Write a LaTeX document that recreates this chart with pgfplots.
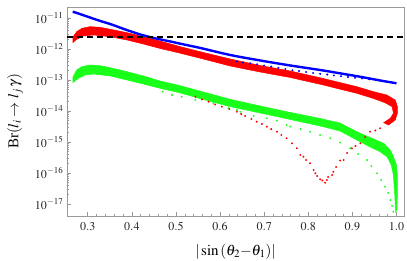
\documentclass[border=0pt]{standalone}
\usepackage{mathptmx}
\usepackage{fontspec}
\setmainfont{Liberation Serif}
\usepackage{pgfplots}
\pgfplotsset{compat=1.18}
\definecolor{framegray}{gray}{0.6}
\definecolor{mgreen}{rgb}{0.1,1,0.1}
\begin{document}
\begin{tikzpicture}
\begin{axis}[
  scale only axis, width=337pt, height=209pt,
  xmin=0.253, xmax=1.017,
  ymode=log, ymin=4.1e-18, ymax=2.26e-11,
  xtick={0.3,0.4,0.5,0.6,0.7,0.8,0.9,1.0},
  minor x tick num=4,
  ytick={1e-17,1e-16,1e-15,1e-14,1e-13,1e-12,1e-11},
  xtick pos=bottom, ytick pos=left,
  tick align=inside,
  major tick length=4pt, minor tick length=2.2pt,
  axis line style={framegray, line width=0.6pt},
  every tick/.style={framegray, line width=0.5pt},
  xticklabel style={/pgf/number format/fixed, /pgf/number format/fixed zerofill, /pgf/number format/precision=1, yshift=-3pt},
  tick label style={font=\fontsize{12}{14}\selectfont, text=black!85},
  label style={font=\fontsize{15}{18}\selectfont},
  xlabel={$|\sin{(\theta_2{-}\theta_1)}|$},
  ylabel={Br$(l_i \rightarrow l_j\,\gamma)$},
  xlabel style={at={(axis description cs:0.5,-0.172)}, anchor=center},
  ylabel style={at={(axis description cs:-0.154,0.5)}, anchor=center},
]
% green band
\addplot[fill=mgreen, draw=mgreen, line width=0.5pt] coordinates {
(0.266,1.22e-13) (0.275,2.10e-13) (0.287,2.69e-13) (0.305,3.05e-13) (0.328,2.89e-13)
(0.351,2.49e-13) (0.389,1.85e-13) (0.426,1.35e-13) (0.464,9.29e-14) (0.508,6.65e-14)
(0.562,4.10e-14) (0.623,2.38e-14) (0.691,1.45e-14) (0.759,8.95e-15) (0.827,5.73e-15)
(0.872,4.10e-15) (0.910,2.15e-15) (0.948,1.25e-15) (0.971,9.08e-16) (0.986,5.52e-16)
(0.993,3.36e-16) (1.000,1.81e-16) (1.002,8.61e-17) (1.002,1.95e-17) (1.001,6.40e-18)
(0.998,5.52e-18) (0.996,1.95e-17) (0.993,8.61e-17) (0.988,1.81e-16) (0.979,3.28e-16)
(0.963,4.86e-16) (0.940,6.90e-16) (0.910,1.16e-15) (0.872,2.26e-15) (0.827,3.28e-15)
(0.759,5.32e-15) (0.691,8.61e-15) (0.623,1.38e-14) (0.562,2.35e-14) (0.508,3.89e-14)
(0.464,5.40e-14) (0.426,7.43e-14) (0.389,1.00e-13) (0.351,1.35e-13) (0.313,1.56e-13)
(0.294,1.45e-13) (0.279,1.135e-13) (0.266,8.18e-14)
};
% green sparse branch
\addplot[only marks, mark=*, mark size=0.75pt, color=mgreen] coordinates {
(0.470,4.20e-14) (0.491,3.28e-14) (0.513,2.89e-14) (0.544,2.26e-14) (0.585,1.77e-14)
(0.619,1.22e-14) (0.638,1.08e-14) (0.646,9.48e-15) (0.676,6.90e-15) (0.706,5.82e-15)
(0.729,4.86e-15) (0.751,3.53e-15) (0.759,3.12e-15) (0.782,2.62e-15) (0.804,2.15e-15)
(0.827,1.68e-15) (0.850,1.32e-15) (0.872,9.64e-16) (0.895,6.27e-16) (0.913,4.10e-16)
(0.933,2.62e-16) (0.943,1.68e-16) (0.956,9.77e-17) (0.965,5.94e-17) (0.974,3.61e-17)
(0.981,2.26e-17) (0.986,1.35e-17) (0.990,8.61e-18) (0.993,5.65e-18)
};
% red band
\addplot[fill=red, draw=red, line width=0.5pt] coordinates {
(0.266,2.38e-12) (0.275,3.61e-12) (0.287,4.66e-12) (0.305,5.24e-12) (0.328,5.01e-12)
(0.351,4.32e-12) (0.389,3.36e-12) (0.426,2.49e-12) (0.464,1.81e-12) (0.508,1.205e-12)
(0.562,7.71e-13) (0.623,4.75e-13) (0.691,2.94e-13) (0.759,1.95e-13) (0.834,1.117e-13)
(0.910,6.08e-14) (0.948,4.20e-14) (0.978,3.28e-14) (0.997,2.26e-14) (1.002,1.38e-14)
(1.002,8.43e-15) (0.997,5.13e-15) (0.982,3.53e-15) (0.971,4.20e-15) (0.986,5.82e-15)
(0.993,8.43e-15) (0.990,1.38e-14) (0.974,1.85e-14) (0.948,2.53e-14) (0.910,3.72e-14)
(0.834,6.90e-14) (0.759,1.205e-13) (0.691,1.81e-13) (0.623,2.83e-13) (0.562,4.75e-13)
(0.508,7.43e-13) (0.464,1.04e-12) (0.426,1.45e-12) (0.389,1.95e-12) (0.351,2.49e-12)
(0.313,2.83e-12) (0.290,2.62e-12) (0.275,2.06e-12) (0.266,1.60e-12)
};
% red sparse branches
\addplot[only marks, mark=*, mark size=0.75pt, color=red] coordinates {
(0.963,2.77e-15) (0.952,2.35e-15) (0.940,2.15e-15) (0.929,1.45e-15) (0.918,9.08e-16)
(0.907,7.43e-16) (0.899,6.27e-16) (0.888,4.42e-16) (0.880,2.62e-16) (0.872,2.53e-16)
(0.863,1.56e-16) (0.857,1.10e-16) (0.854,8.61e-17) (0.845,7.43e-17) (0.842,5.94e-17)
(0.838,4.86e-17)
(0.832,5.73e-17) (0.827,6.27e-17) (0.820,8.00e-17) (0.816,9.77e-17) (0.812,1.25e-16)
(0.804,2.06e-16) (0.795,2.62e-16) (0.789,3.36e-16) (0.782,3.81e-16) (0.774,6.27e-16)
(0.763,9.08e-16) (0.751,1.32e-15) (0.739,1.68e-15) (0.729,2.15e-15) (0.716,2.62e-15)
(0.706,3.12e-15) (0.695,3.81e-15) (0.683,4.52e-15) (0.671,5.52e-15) (0.657,6.90e-15)
(0.648,8.00e-15) (0.638,9.48e-15) (0.621,1.16e-14) (0.604,1.38e-14) (0.589,1.62e-14)
(0.574,2.00e-14) (0.559,2.35e-14) (0.544,2.89e-14)
};
% blue sparse branch
\addplot[only marks, mark=*, mark size=0.75pt, color=blue] coordinates {
(0.638,3.95e-13) (0.652,3.67e-13) (0.668,3.46e-13) (0.684,3.21e-13) (0.700,2.94e-13)
(0.716,2.72e-13) (0.732,2.48e-13) (0.748,2.26e-13) (0.764,2.07e-13) (0.779,1.95e-13)
(0.795,1.81e-13) (0.811,1.68e-13) (0.827,1.585e-13) (0.843,1.50e-13) (0.858,1.40e-13)
(0.874,1.33e-13) (0.890,1.25e-13) (0.906,1.18e-13) (0.922,1.12e-13) (0.938,1.05e-13)
(0.954,1.00e-13) (0.970,9.29e-14) (0.986,8.61e-14)
};
% blue main
\addplot[blue, line width=2.4pt, smooth] coordinates {
(0.266,1.60e-11) (0.283,1.33e-11) (0.304,1.05e-11) (0.327,8.13e-12) (0.354,6.17e-12)
(0.385,4.26e-12) (0.419,2.94e-12) (0.453,2.21e-12) (0.487,1.75e-12) (0.508,1.50e-12)
(0.555,1.08e-12) (0.623,6.40e-13) (0.691,4.26e-13) (0.759,2.94e-13) (0.827,2.10e-13)
(0.872,1.64e-13) (0.918,1.27e-13) (0.963,9.64e-14) (1.000,7.83e-14)
};
% experimental bound
\addplot[black, line width=2.6pt, dash pattern=on 6pt off 4pt] coordinates {
(0.253,2.4e-12) (1.017,2.4e-12)
};
\end{axis}
\pgfresetboundingbox
\path ([shift={(-67pt,-44pt)}]current axis.south west) rectangle ([shift={(3pt,7pt)}]current axis.north east);
\end{tikzpicture}
\end{document}
